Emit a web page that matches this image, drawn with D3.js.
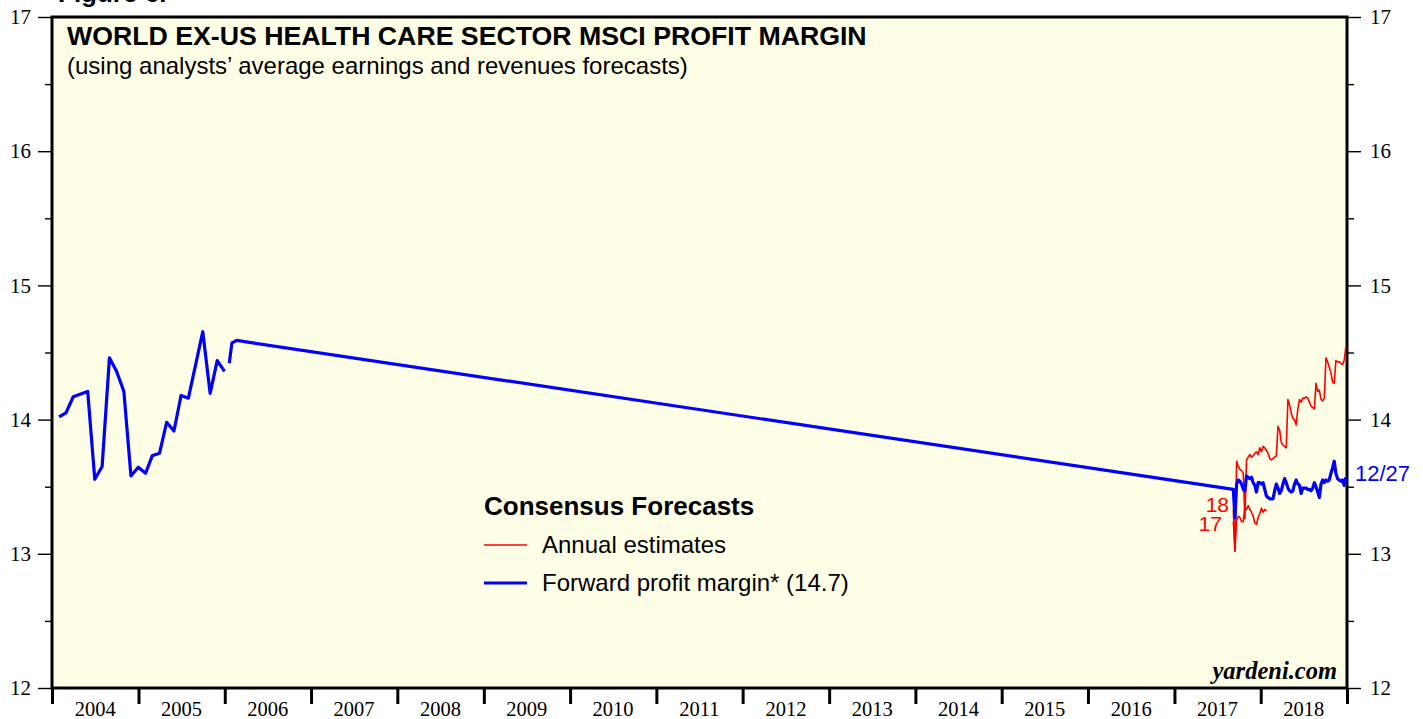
<!DOCTYPE html>
<html>
<head>
<meta charset="utf-8">
<script src="https://cdn.jsdelivr.net/npm/d3@7"></script>
<style>
  body { margin: 0; background: #fff; }
  svg { display: block; }
</style>
</head>
<body>
<div id="chart"></div>
<script>
// ---- data ----
const years = [2004, 2005, 2006, 2007, 2008, 2009, 2010, 2011, 2012, 2013, 2014, 2015, 2016, 2017, 2018];
const yTicks = [12, 13, 14, 15, 16, 17];
const yMinor = [12.5, 13.5, 14.5, 15.5, 16.5];

// early monthly forward profit margin (null = gap)
const earlyDates = ["2004-01-31", "2004-02-29", "2004-03-31", "2004-05-31", "2004-06-30", "2004-07-31",
  "2004-08-31", "2004-09-30", "2004-10-31", "2004-11-30", "2004-12-31", "2005-01-31", "2005-02-28",
  "2005-03-31", "2005-04-30", "2005-05-31", "2005-06-30", "2005-07-31", "2005-09-30", "2005-10-31",
  "2005-11-30", "2005-12-31", "2006-01-10", "2006-01-20", "2006-01-31", "2006-02-20"];
const earlyValues = [14.02, 14.05, 14.17, 14.21, 13.555, 13.65, 14.46, 14.36, 14.21, 13.58, 13.645,
  13.60, 13.73, 13.75, 13.98, 13.915, 14.18, 14.16, 14.655, 14.195, 14.44, 14.36, null, 14.42, 14.57, 14.59];

// weekly data from 2017-09-07 to 2018-12-27
const weeklyStart = "2017-09-07";
const forwardMargin = [13.48, 13.27, 13.52, 13.55, 13.54, 13.52, 13.48, 13.47, 13.58, 13.57, 13.56, 13.57,
  13.53, 13.51, 13.46, 13.53, 13.53, 13.52, 13.53, 13.48, 13.43, 13.42, 13.41, 13.41, 13.41, 13.47, 13.52,
  13.49, 13.45, 13.47, 13.52, 13.56, 13.53, 13.49, 13.47, 13.46, 13.47, 13.52, 13.55, 13.52, 13.51, 13.45,
  13.49, 13.49, 13.49, 13.48, 13.48, 13.47, 13.49, 13.53, 13.50, 13.46, 13.42, 13.52, 13.55, 13.53, 13.55,
  13.54, 13.55, 13.60, 13.64, 13.69, 13.60, 13.56, 13.55, 13.54, 13.55, 13.51, 13.57];
const annual2017 = [13.24, 13.02, 13.25, 13.28, 13.27, 13.24, 13.24, 13.35, 13.33, 13.36, 13.33, 13.31,
  13.28, 13.23, 13.22, 13.27, 13.30, 13.34, 13.31, 13.33, 13.32];
const annual2018 = [13.33, 13.02, 13.69, 13.65, 13.63, 13.62, 13.60, 13.26, 13.70, 13.72, 13.74, 13.72,
  13.73, 13.75, 13.76, 13.74, 13.79, 13.76, 13.80, 13.79, 13.77, 13.75, 13.71, 13.70, 13.71, 13.72, 13.73,
  13.95, 13.92, 13.83, 13.81, 13.80, 13.79, 14.15, 14.11, 14.05, 14.01, 14.00, 13.96, 14.08, 14.15, 14.13,
  14.16, 14.16, 14.17, 14.16, 14.13, 14.10, 14.09, 14.08, 14.27, 14.21, 14.22, 14.15, 14.14, 14.16, 14.46,
  14.43, 14.39, 14.35, 14.28, 14.27, 14.44, 14.43, 14.43, 14.42, 14.41, 14.44, 14.54];

// ---- layout ----
const W = 1423, H = 719;
const plotL = 52, plotR = 1347, plotT = 17, plotB = 688;
const bg = "#fefde5";
const sans = "'Liberation Sans', Arial, Helvetica, sans-serif";
const serif = "'Liberation Serif', 'Times New Roman', serif";

const parse = d3.utcParse("%Y-%m-%d");
const wk0 = parse(weeklyStart);
const weekDate = i => d3.utcDay.offset(wk0, 7 * i);

const blueData = earlyDates.map((d, i) => ({ date: parse(d), v: earlyValues[i] }))
  .concat(forwardMargin.map((v, i) => ({ date: weekDate(i), v })));
const red17 = annual2017.map((v, i) => ({ date: weekDate(i), v }));
const red18 = annual2018.map((v, i) => ({ date: weekDate(i), v }));

const x = d3.scaleUtc()
  .domain([Date.UTC(2004, 0, 1), Date.UTC(2019, 0, 1)])
  .range([plotL, plotR]);
const y = d3.scaleLinear().domain([12, 17]).range([plotB, plotT]);

const svg = d3.select("#chart").append("svg")
  .attr("width", W).attr("height", H);

// partially cropped figure caption at very top
svg.append("text")
  .attr("x", 58).attr("y", 2)
  .style("font-family", sans).style("font-weight", "bold").style("font-size", "26px")
  .text("Figure 6.");

// plot background
svg.append("rect")
  .attr("x", plotL).attr("y", plotT)
  .attr("width", plotR - plotL).attr("height", plotB - plotT)
  .attr("fill", bg);

// left axis
const leftAxis = svg.append("g").attr("transform", `translate(${plotL},0)`);
leftAxis.call(d3.axisLeft(y).tickValues(yTicks).tickSize(14).tickFormat(d3.format("d")));
leftAxis.append("g").call(d3.axisLeft(y).tickValues(yMinor).tickSize(7).tickFormat(""));
// right axis
const rightAxis = svg.append("g").attr("transform", `translate(${plotR},0)`);
rightAxis.call(d3.axisRight(y).tickValues(yTicks).tickSize(14).tickFormat(d3.format("d")));
rightAxis.append("g").call(d3.axisRight(y).tickValues(yMinor).tickSize(7).tickFormat(""));

svg.selectAll(".domain").remove();
[leftAxis, rightAxis].forEach(g => {
  g.selectAll("line").attr("stroke", "#000").attr("stroke-width", 1.4);
  g.selectAll("text")
    .style("font-family", serif).style("font-size", "21px").attr("fill", "#000");
});
leftAxis.selectAll("text").attr("x", -21);
rightAxis.selectAll("text").attr("x", 23);

// bottom axis: ticks at year boundaries, labels centred in each year
const yearStarts = years.map(yr => new Date(Date.UTC(yr, 0, 1))).concat([new Date(Date.UTC(2019, 0, 1))]);
const bottomAxis = svg.append("g").attr("transform", `translate(0,${plotB})`)
  .call(d3.axisBottom(x).tickValues(yearStarts).tickSize(16).tickFormat(""));
bottomAxis.select(".domain").remove();
bottomAxis.selectAll("line").attr("stroke", "#000").attr("stroke-width", 3);

svg.append("g").selectAll("text")
  .data(years)
  .enter().append("text")
  .attr("x", d => x(new Date(Date.UTC(d, 6, 2))))
  .attr("y", 716)
  .attr("text-anchor", "middle")
  .style("font-family", serif).style("font-size", "20.5px")
  .text(d => d);

// frame
svg.append("rect")
  .attr("x", plotL).attr("y", plotT)
  .attr("width", plotR - plotL).attr("height", plotB - plotT)
  .attr("fill", "none").attr("stroke", "#000").attr("stroke-width", 3);

// lines
const line = d3.line()
  .defined(d => d.v !== null)
  .x(d => x(d.date))
  .y(d => y(d.v));

const plot = svg.append("g");
plot.append("path").datum(red17)
  .attr("d", line).attr("fill", "none").attr("stroke", "#ff0000").attr("stroke-width", 1.6)
  .attr("stroke-linejoin", "round");
plot.append("path").datum(red18)
  .attr("d", line).attr("fill", "none").attr("stroke", "#ff0000").attr("stroke-width", 1.6)
  .attr("stroke-linejoin", "round");
plot.append("path").datum(blueData)
  .attr("d", line).attr("fill", "none").attr("stroke", "#0000ff").attr("stroke-width", 3.2)
  .attr("stroke-linejoin", "round");

// series labels
svg.append("text")
  .attr("x", 1229).attr("y", 512).attr("text-anchor", "end")
  .style("font-family", sans).style("font-size", "21px").attr("fill", "#ff0000")
  .text("18");
svg.append("text")
  .attr("x", 1222).attr("y", 531).attr("text-anchor", "end")
  .style("font-family", sans).style("font-size", "21px").attr("fill", "#ff0000")
  .text("17");
svg.append("text")
  .attr("x", 1355).attr("y", 481)
  .style("font-family", sans).style("font-size", "22px").attr("fill", "#0000ff")
  .text("12/27");

// titles
svg.append("text")
  .attr("x", 67).attr("y", 45)
  .style("font-family", sans).style("font-weight", "bold").style("font-size", "26.7px")
  .text("WORLD EX-US HEALTH CARE SECTOR MSCI PROFIT MARGIN");
svg.append("text")
  .attr("x", 67).attr("y", 74)
  .style("font-family", sans).style("font-size", "24px")
  .text("(using analysts’ average earnings and revenues forecasts)");

// legend
const legend = svg.append("g");
legend.append("text")
  .attr("x", 484).attr("y", 515)
  .style("font-family", sans).style("font-weight", "bold").style("font-size", "26px")
  .text("Consensus Forecasts");
const items = [
  { label: "Annual estimates", color: "#ff0000", w: 1.6, y: 545 },
  { label: "Forward profit margin* (14.7)", color: "#0000ff", w: 3, y: 583 }
];
items.forEach(it => {
  legend.append("line")
    .attr("x1", 484).attr("x2", 527).attr("y1", it.y).attr("y2", it.y)
    .attr("stroke", it.color).attr("stroke-width", it.w);
  legend.append("text")
    .attr("x", 542).attr("y", it.y + 8)
    .style("font-family", sans).style("font-size", "24px")
    .text(it.label);
});

// source
svg.append("text")
  .attr("x", 1337).attr("y", 679).attr("text-anchor", "end")
  .style("font-family", serif).style("font-weight", "bold").style("font-style", "italic")
  .style("font-size", "24.5px")
  .text("yardeni.com");
</script>
</body>
</html>
